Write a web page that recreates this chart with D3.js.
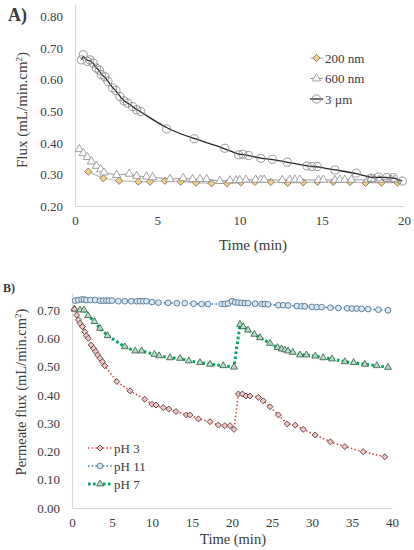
<!DOCTYPE html>
<html>
<head>
<meta charset="utf-8">
<script src="https://cdn.jsdelivr.net/npm/d3@7"></script>
<style>
body{margin:0;background:#fff;}
svg text{font-family:"Liberation Serif","Times New Roman",serif;fill:#3a3a3a;}
</style>
</head>
<body>
<svg width="414" height="550"></svg>
<script>
// panel A: flux vs time for three particle sizes
var timeTicksA=[0,5,10,15,20];
var fluxTicksA=[0.20,0.30,0.40,0.50,0.60,0.70,0.80];
var labelsA=['200 nm','600 nm','3 \u00b5m'];

var nm200=[[0.81,0.309],[1.72,0.288],[2.69,0.280],[3.85,0.277],[4.56,0.277],[5.47,0.280],[6.42,0.277],
	[7.35,0.274],[8.3,0.272],[9.25,0.272],[10.08,0.275],[10.94,0.276],[11.9,0.276],[12.92,0.273],
	[13.87,0.275],[14.74,0.276],[15.7,0.276],[16.71,0.276],[17.66,0.273],[18.63,0.274],[19.6,0.274]];

var nm600=[[0.26,0.380],[0.5,0.367],[0.75,0.355],[1.0,0.341],[1.3,0.327],[1.56,0.316],[1.76,0.306],
	[2.53,0.298],[3.3,0.302],[3.75,0.295],[4.35,0.293],[4.72,0.291],[5.77,0.285],[6.58,0.288],
	[7.15,0.285],[7.6,0.285],[8.0,0.285],[8.8,0.279],[9.42,0.281],[9.8,0.281],[10.02,0.282],
	[10.39,0.283],[10.98,0.283],[11.3,0.283],[11.5,0.283],[12.6,0.282],[13.06,0.283],[13.37,0.283],
	[13.67,0.283],[14.8,0.282],[15.1,0.283],[15.8,0.282],[16.1,0.283],[16.4,0.283],[16.8,0.283],
	[17.8,0.283],[18.0,0.286],[18.2,0.284],[18.5,0.283],[19.2,0.284],[19.4,0.283]];

var um3=[[0.4,0.663],[0.5,0.679],[0.75,0.658],[0.9,0.663],[1.1,0.653],[1.3,0.637],[1.48,0.630],
	[1.6,0.616],[1.82,0.609],[2.0,0.595],[2.29,0.574],[2.49,0.566],[2.73,0.547],[2.98,0.533],
	[3.2,0.526],[3.5,0.515],[3.75,0.505],[4.0,0.499],[5.57,0.444],[7.25,0.413],[9.11,0.383],
	[9.95,0.362],[10.2,0.364],[10.55,0.360],[11.3,0.351],[12.0,0.348],[12.9,0.339],[14.1,0.327],
	[14.4,0.325],[14.72,0.325],[15.8,0.314],[17.1,0.304],[18.0,0.288],[18.45,0.292],[18.95,0.290],
	[19.35,0.290],[19.9,0.279]];

// panel B: permeate flux vs time at three pH values
var timeTicksB=[0,5,10,15,20,25,30,35,40];
var fluxTicksB=[0.00,0.10,0.20,0.30,0.40,0.50,0.60,0.70];
var labelsB=['pH 3','pH 11','pH 7'];

var ph3=[[0.3,0.703],[0.58,0.682],[0.8,0.665],[1.0,0.653],[1.3,0.641],[1.6,0.623],[1.8,0.609],
	[2.04,0.600],[2.4,0.576],[2.7,0.564],[2.96,0.553],[3.2,0.541],[3.5,0.529],[3.8,0.517],[4.1,0.503],
	[5.6,0.447],[7.25,0.414],[9.1,0.384],[10.0,0.367],[10.5,0.364],[11.4,0.355],[12.1,0.350],
	[13.0,0.341],[14.3,0.329],[14.75,0.329],[15.8,0.315],[17.25,0.305],[18.3,0.293],[19.1,0.291],
	[19.75,0.291],[20.25,0.278],[20.8,0.403],[21.3,0.403],[21.75,0.396],[22.25,0.396],[23.3,0.391],
	[23.9,0.379],[24.75,0.358],[25.8,0.329],[26.9,0.297],[27.9,0.293],[28.9,0.278],[30.4,0.258],
	[32.3,0.234],[34.1,0.217],[36.4,0.199],[39.1,0.181]];

var ph11=[[0.4,0.733],[0.8,0.735],[1.2,0.737],[1.5,0.737],[1.8,0.735],[2.3,0.735],[2.9,0.735],
	[3.5,0.733],[3.9,0.733],[4.3,0.733],[4.6,0.733],[5.0,0.733],[5.8,0.731],[6.6,0.731],[7.4,0.731],
	[8.1,0.731],[8.5,0.731],[8.9,0.731],[9.3,0.731],[10.0,0.728],[10.8,0.726],[12.0,0.725],[13.1,0.724],
	[14.1,0.724],[15.2,0.722],[16.2,0.721],[17.0,0.721],[18.7,0.721],[19.1,0.721],[19.5,0.723],
	[20.0,0.731],[20.4,0.727],[20.8,0.726],[21.2,0.725],[21.6,0.724],[22.0,0.724],[22.9,0.722],
	[23.7,0.721],[24.1,0.721],[24.5,0.720],[25.8,0.717],[26.4,0.717],[27.0,0.716],[28.1,0.714],
	[28.7,0.713],[29.1,0.713],[30.0,0.711],[30.6,0.710],[31.2,0.710],[32.3,0.708],[33.3,0.707],
	[34.4,0.706],[35.0,0.705],[35.6,0.705],[36.2,0.704],[37.0,0.703],[38.3,0.701],[39.5,0.699]];

var ph7=[[0.3,0.703],[1.0,0.700],[1.5,0.700],[2.0,0.680],[2.8,0.659],[3.5,0.635],[4.45,0.609],
	[6.6,0.570],[7.9,0.555],[8.7,0.555],[10.3,0.543],[10.9,0.538],[12.25,0.531],[13.5,0.529],
	[14.6,0.520],[16.0,0.514],[17.25,0.508],[18.9,0.503],[20.25,0.498],[21.0,0.649],[21.4,0.641],
	[22.0,0.629],[22.8,0.614],[23.5,0.602],[24.75,0.582],[25.7,0.567],[26.2,0.562],[26.6,0.559],
	[27.0,0.555],[27.6,0.550],[28.5,0.541],[29.3,0.541],[30.4,0.537],[31.4,0.531],[32.5,0.527],
	[34.1,0.517],[35.2,0.514],[36.6,0.508],[38.1,0.503],[39.5,0.497]];


var svg=d3.select('svg');

var diamondShape={draw:function(ctx,size){var r=Math.sqrt(size/2);ctx.moveTo(0,-r);ctx.lineTo(r,0);ctx.lineTo(0,r);ctx.lineTo(-r,0);ctx.closePath();}};

function shapeOf(name)
{
	if(name=='circle') return d3.symbolCircle;
	if(name=='triangle') return d3.symbolTriangle;
	return diamondShape;
};

function drawSeries(g,data,x,y,st)
{
	var line=d3.line().x(function(d){return x(d[0]);}).y(function(d){return y(d[1]);});
	if(st.smooth) line.curve(d3.curveBasis);
	g.append('path').attr('d',line(data)).attr('fill','none')
	.attr('stroke',st.line).attr('stroke-width',st.lineWidth)
	.attr('stroke-dasharray',st.dash||null);

	var sym=d3.symbol().type(shapeOf(st.shape)).size(st.size);
	g.selectAll(null).data(data).enter().append('path')
	.attr('d',sym)
	.attr('transform',function(d){return 'translate('+x(d[0])+','+y(d[1])+')';})
	.attr('fill',st.fill).attr('stroke',st.stroke).attr('stroke-width',st.strokeWidth||0.8);
};

function drawLegendItem(g,st,label,lx,ly,len)
{
	g.append('line').attr('x1',lx).attr('x2',lx+len).attr('y1',ly).attr('y2',ly)
	.attr('stroke',st.line).attr('stroke-width',st.lineWidth).attr('stroke-dasharray',st.dash||null);
	g.append('path').attr('d',d3.symbol().type(shapeOf(st.shape)).size(st.size)())
	.attr('transform','translate('+(lx+len/2)+','+ly+')')
	.attr('fill',st.fill).attr('stroke',st.stroke).attr('stroke-width',st.strokeWidth||0.8);
	g.append('text').attr('x',lx+len+2).attr('y',ly).attr('dy','0.35em')
	.style('font-size','13px').text(label);
};

function styleAxis(ax)
{
	ax.select('.domain').attr('stroke','#d9d9d9').attr('stroke-width',1.2);
	ax.selectAll('text').style('font-size','13px').attr('fill','#3a3a3a')
	.style('font-family','"Liberation Serif","Times New Roman",serif');
};

function yTitle(g,cx,cy,main,fs)
{
	var t=g.append('text').attr('transform','translate('+cx+','+cy+') rotate(-90)')
	.attr('text-anchor','middle').attr('dy','0.35em').style('font-size',fs+'px');
	t.append('tspan').text(main+' (mL/min.cm');
	t.append('tspan').attr('dy','-5').style('font-size','9px').text('2');
	t.append('tspan').attr('dy','5').text(')');
};

// ---------- panel A ----------
var xA=d3.scaleLinear().domain([0,20]).range([75,404]);
var yA=d3.scaleLinear().domain([0.2,0.84]).range([206,4]);
var gA=svg.append('g').attr('class','panelA');

var axA=gA.append('g').attr('transform','translate(0,206)')
	.call(d3.axisBottom(xA).tickValues(timeTicksA).tickSize(0).tickPadding(10).tickSizeOuter(0));
styleAxis(axA);
var ayA=gA.append('g').attr('transform','translate(75,0)')
	.call(d3.axisLeft(yA).tickValues(fluxTicksA).tickFormat(d3.format('.2f')).tickSize(0).tickPadding(12).tickSizeOuter(0));
styleAxis(ayA);

var stylesA=[
	{shape:'diamond',size:26,fill:'#f2cf8a',stroke:'#7a6440',line:'#bdbdbd',lineWidth:1.2},
	{shape:'triangle',size:30,fill:'#fff',stroke:'#8c8c8c',line:'#9a9a9a',lineWidth:1},
	{shape:'circle',size:52,fill:'none',stroke:'#808080',line:'#262626',lineWidth:1.3,smooth:true}
];
drawSeries(gA,nm200,xA,yA,stylesA[0]);
drawSeries(gA,nm600,xA,yA,stylesA[1]);
drawSeries(gA,um3,xA,yA,stylesA[2]);

for(var i=0;i<labelsA.length;i++)
{
	drawLegendItem(gA,stylesA[i],labelsA[i],310,58+i*20.5,13);
};

gA.append('text').attr('x',253).attr('y',250).attr('text-anchor','middle').style('font-size','15px').text('Time (min)');
yTitle(gA,22,110,'Flux',15);
gA.append('text').attr('x',8).attr('y',21).style('font-size','18px').style('font-weight','bold').text('A)');

// ---------- panel B ----------
var xB=d3.scaleLinear().domain([0,40]).range([72,392]);
var yB=d3.scaleLinear().domain([0,0.76]).range([508,293]);
var gB=svg.append('g').attr('class','panelB');

var axB=gB.append('g').attr('transform','translate(0,508)')
	.call(d3.axisBottom(xB).tickValues(timeTicksB).tickSize(0).tickPadding(10).tickSizeOuter(0));
styleAxis(axB);
var ayB=gB.append('g').attr('transform','translate(72,0)')
	.call(d3.axisLeft(yB).tickValues(fluxTicksB).tickFormat(d3.format('.2f')).tickSize(0).tickPadding(12).tickSizeOuter(0));
styleAxis(ayB);

var stylesB=[
	{shape:'diamond',size:18,fill:'#f3c6c6',stroke:'#3a2a2a',line:'#e04848',lineWidth:1.6,dash:'1.5,2.2'},
	{shape:'circle',size:26,fill:'#dbe6ef',stroke:'#3c6a8a',line:'#3f7aa0',lineWidth:1.6,dash:'1.5,2.2'},
	{shape:'triangle',size:20,fill:'#b9dcc6',stroke:'#2c5a44',line:'#00a862',lineWidth:3,dash:'2.6,2.4'}
];
var seriesB=[ph3,ph11,ph7];
drawSeries(gB,seriesB[1],xB,yB,stylesB[1]);
drawSeries(gB,seriesB[2],xB,yB,stylesB[2]);
drawSeries(gB,seriesB[0],xB,yB,stylesB[0]);

for(var j=0;j<labelsB.length;j++)
{
	drawLegendItem(gB,stylesB[j],labelsB[j],88,448+j*18,24);
};

gB.append('text').attr('x',233).attr('y',544).attr('text-anchor','middle').style('font-size','14.5px').text('Time (min)');
yTitle(gB,21,392,'Permeate flux',14.5);
gB.append('text').attr('x',3).attr('y',292).style('font-size','12px').style('font-weight','bold').text('B)');
</script>
</body>
</html>
